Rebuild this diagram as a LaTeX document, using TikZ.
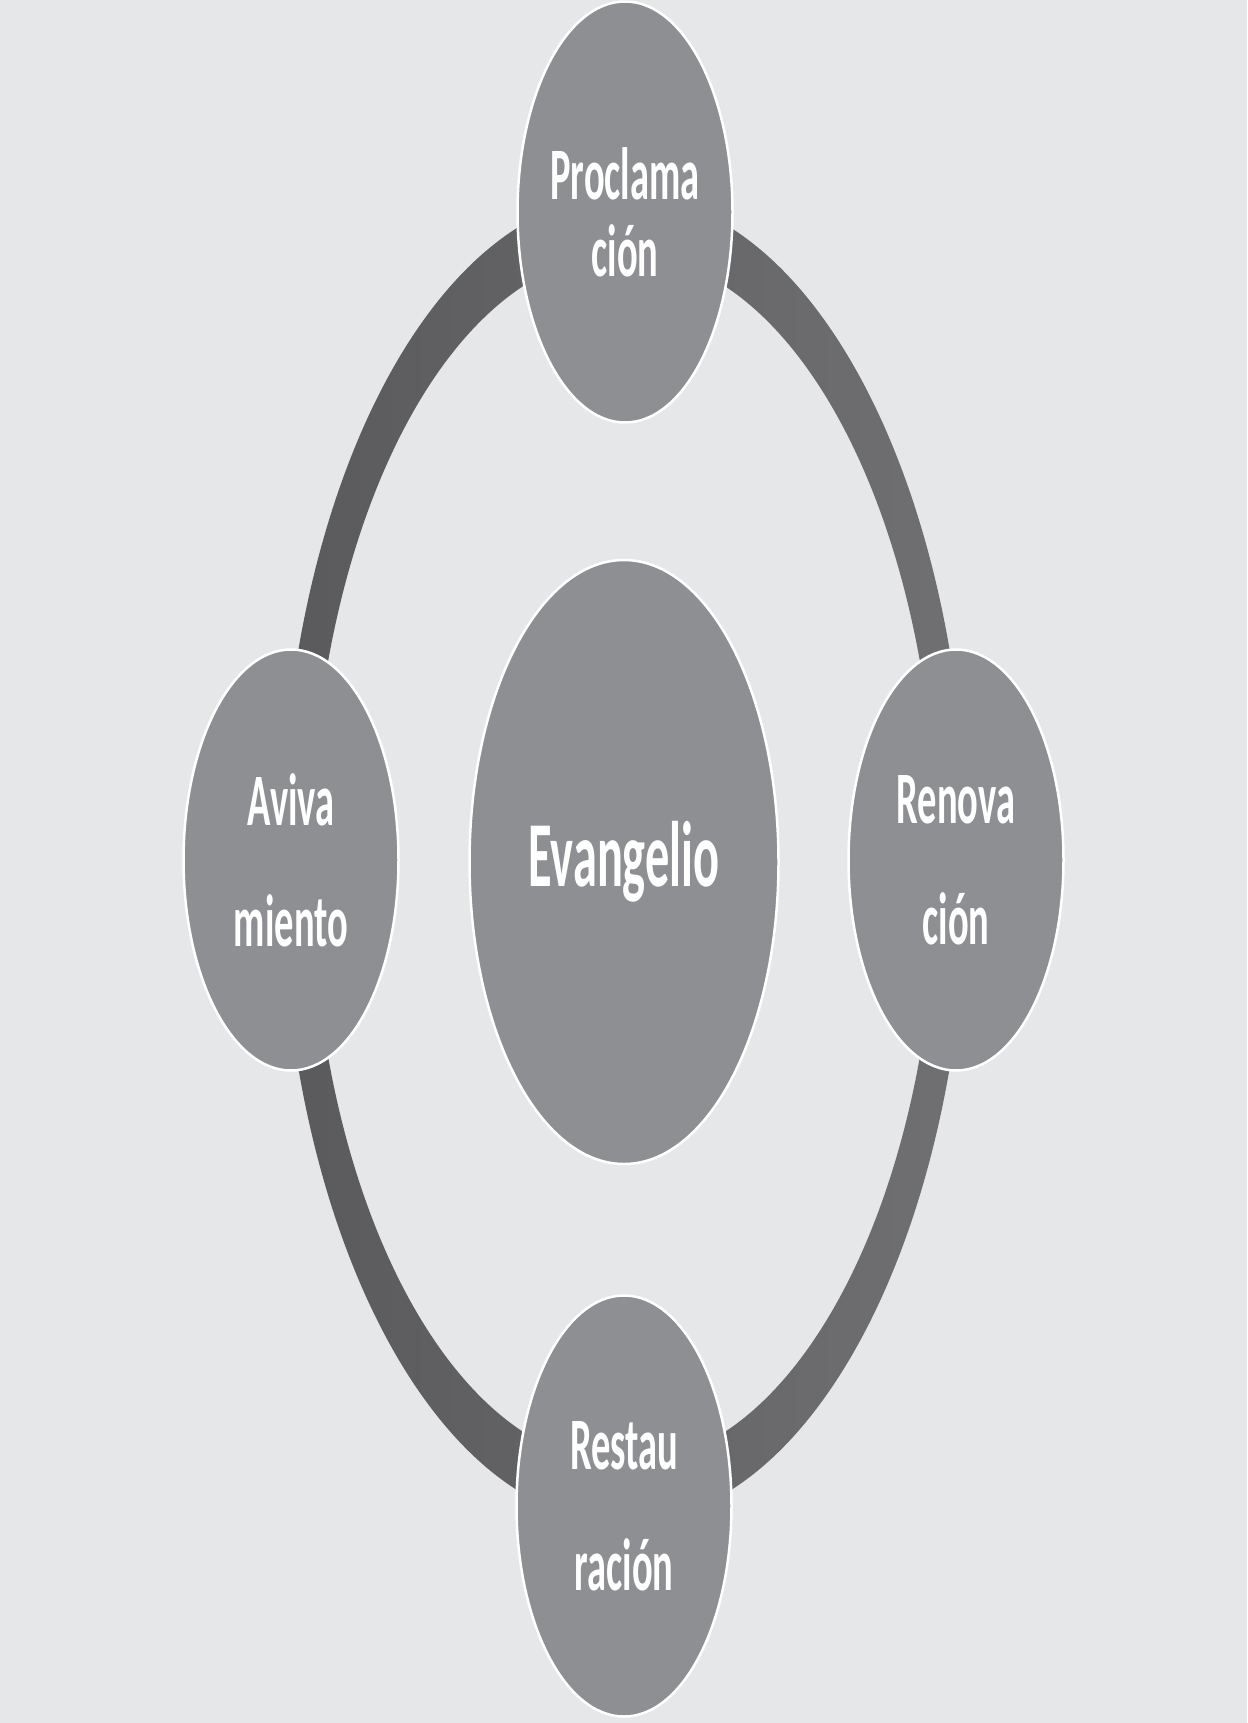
\documentclass[tikz,border=0pt]{standalone}
\usepackage{graphicx}
\usepackage{fontspec}
\setmainfont{Carlito}
\usetikzlibrary{shapes.geometric}
\definecolor{bgcol}{HTML}{E6E7E8}
\definecolor{nodefill}{HTML}{8E8F93}
\definecolor{ringL}{HTML}{5A5A5C}
\definecolor{ringR}{HTML}{707072}
\newcommand{\sqz}[1]{\scalebox{0.52}[1]{#1}}
\begin{document}
\begin{tikzpicture}[x=1pt,y=-1pt,
  bubble/.style={ellipse, fill=nodefill, draw=white, line width=2.5pt,
    minimum width=215pt, minimum height=421pt, inner sep=0pt,
    text=white, align=center},
  bubbletight/.style={bubble, font=\fontsize{74}{77}\selectfont\bfseries},
  bubbleloose/.style={bubble, font=\fontsize{74}{121}\selectfont\bfseries},
  centrebubble/.style={ellipse, fill=nodefill, draw=white, line width=2.5pt,
    minimum width=309pt, minimum height=604pt, inner sep=0pt,
    text=white, font=\fontsize{93}{100}\selectfont\bfseries}]
\useasboundingbox (0,0) rectangle (1247,1723);
\fill[bgcol] (0,0) rectangle (1247,1723);
\coordinate (ringc) at (624,859);
% ring
\shade[even odd rule, left color=ringL, right color=ringR]
  (ringc) ellipse [x radius=343, y radius=664]
  (ringc) ellipse [x radius=313, y radius=605];
% nodes
\node[bubbletight] (procl) at (625,212) {\sqz{Proclama}\\\sqz{ción}};
\node[bubbleloose] (aviva) at (291,860) {\sqz{Aviva}\\\sqz{miento}};
\node[bubbleloose] (renov) at (956,860) {\sqz{Renova}\\\sqz{ción}};
\node[bubbleloose] (resta) at (624,1506) {\sqz{Restau}\\\sqz{ración}};
\node[centrebubble] (evang) at (624,862) {\sqz{Evangelio}};
\end{tikzpicture}
\end{document}
